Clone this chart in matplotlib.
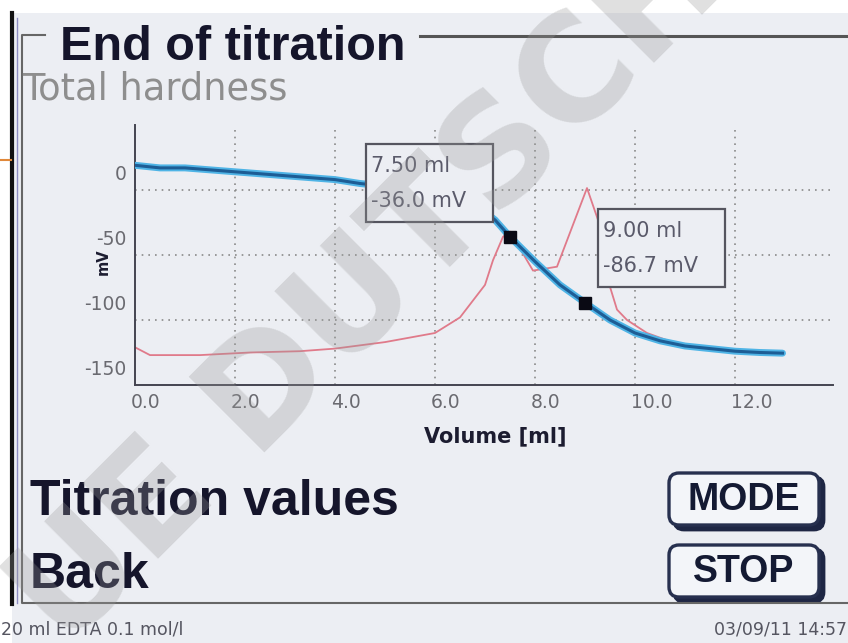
import matplotlib
matplotlib.use("Agg")
import matplotlib.pyplot as plt
import matplotlib.transforms as mtransforms
from matplotlib.patches import Rectangle, FancyBboxPatch

# krzywa miareczkowania (niebieska): objetosc [ml] -> potencjal [mV]
objetosc = [0.0, 0.5, 1.0, 2.0, 3.0, 4.0, 4.5, 5.0, 5.5, 6.0, 6.5, 7.0, 7.2, 7.5,
            8.0, 8.5, 9.0, 9.5, 10.0, 10.5, 11.0, 11.5, 12.0, 12.5, 12.95]
potencjal = [19, 17, 17, 14, 11, 8, 5, 3, 0, -4, -9, -17, -23, -36.0,
             -55, -73, -86.7, -100, -110, -116, -120, -122, -124, -125, -125.5]

# pierwsza pochodna (rozowa), w tej samej skali
objetosc_poch = [0.0, 0.3, 1.3, 2.3, 3.3, 4.0, 5.0, 6.0, 6.5, 7.0, 7.16, 7.36, 7.5,
                 7.96, 8.44, 9.04, 9.26, 9.44, 9.64, 9.84, 10.24, 10.6]
pochodna = [-121, -127, -127, -125, -124, -122, -117, -110, -98, -73, -54, -36, -32,
            -62, -59, 1.5, -23, -67, -92, -100, -110, -115]

# punkty koncowe
pk_ml = [7.50, 9.00]
pk_mv = [-36.0, -86.7]

xticks = [0, 2, 4, 6, 8, 10, 12]
xtick_labels = ["0.0", "2.0", "4.0", "6.0", "8.0", "10.0", "12.0"]
yticks = [0, -50, -100, -150]
ytick_labels = ["0", "-50", "-100", "-150"]

W, H = 848, 643
TLO = "#eceef3"
GRUBY = "Liberation Sans"

fig = plt.figure(figsize=(W / 100, H / 100), dpi=100)
fig.patch.set_facecolor("white")

# tlo ekranu w pikselach
ekran = fig.add_axes([0, 0, 1, 1], zorder=0)
ekran.set_xlim(0, W)
ekran.set_ylim(H, 0)
ekran.axis("off")
ekran.add_patch(Rectangle((12, 13), W - 12, H - 13, facecolor=TLO, edgecolor="none"))
ekran.plot([12, 12], [13, 604], color="#111111", lw=3)
ekran.plot([17, 17], [18, 603], color="#8c8cc0", lw=1)
ekran.plot([0, 11], [160, 160], color="#e0883a", lw=1.5)
ekran.plot([45, 22, 22, W], [35, 35, 603, 603], color="#666666", lw=1.5)
ekran.plot([420, W], [36, 36], color="#555555", lw=2.2)

ekran.text(60, 60, "End of titration", family=GRUBY, fontweight="bold",
           fontsize=35, color="#15152b", va="baseline")
ekran.text(22, 100, "Total hardness", family="DejaVu Sans", fontsize=26.5,
           color="#8e8e8e", va="baseline")
ekran.text(30, 515, "Titration values", family=GRUBY, fontweight="bold",
           fontsize=36, color="#15152b", va="baseline")
ekran.text(30, 588, "Back", family=GRUBY, fontweight="bold",
           fontsize=36, color="#15152b", va="baseline")

for nazwa, y0 in [("MODE", 473), ("STOP", 545)]:
    ekran.add_patch(FancyBboxPatch((674, y0 + 4), 150, 53,
                    boxstyle="round,pad=0,rounding_size=10",
                    facecolor="#1e2644", edgecolor="#1e2644", lw=2))
    ekran.add_patch(FancyBboxPatch((669, y0), 150, 52,
                    boxstyle="round,pad=0,rounding_size=10",
                    facecolor="#f3f5f9", edgecolor="#27304f", lw=2.4))
    ekran.text(744, y0 + 27, nazwa, family=GRUBY, fontweight="bold",
               fontsize=27, color="#141a33", ha="center", va="center")

ekran.text(1, 630, "20 ml EDTA 0.1 mol/l", fontsize=12.5, color="#555560", va="center")
ekran.text(W - 1, 630, "03/09/11 14:57", fontsize=12.5, color="#555560",
           va="center", ha="right")

# wykres
ax = fig.add_axes([135 / W, (H - 385) / H, (833 - 135) / W, (385 - 125) / H], zorder=2)
ax.set_facecolor("none")
ax.set_xlim(0, 13.96)
ax.set_ylim(-150, 50)

for x in xticks[1:]:
    ax.axvline(x, color="#8a8a8a", lw=1.2, ls=(0, (1, 3)), zorder=1)
for y in yticks[:-1]:
    ax.axhline(y, color="#8a8a8a", lw=1.2, ls=(0, (1, 3)), zorder=1)

ax.plot(objetosc_poch, pochodna, color="#e07a8a", lw=1.3, zorder=2)
ax.plot(objetosc, potencjal, color="#4fb4e6", lw=5, zorder=3, solid_capstyle="round")
ax.plot(objetosc, potencjal, color="#1d5d95", lw=2.2, zorder=4)
ax.plot(pk_ml, pk_mv, "s", color="#0a0a14", ms=8, zorder=5)

# ramki z wartosciami
ramki = [(-144, 15), (13, 16)]
for (dx, dy), xm, ym in zip(ramki, pk_ml, pk_mv):
    tr = mtransforms.Affine2D().translate(dx, dy) + mtransforms.ScaledTranslation(xm, ym, ax.transData)
    ax.add_patch(Rectangle((0, 0), 127, 78, transform=tr, facecolor=TLO,
                           edgecolor="#55555f", lw=1.6, zorder=6, clip_on=False))
    ax.text(5, 56, f"{xm:.2f} ml", transform=tr, fontsize=15, color="#5a5a6a",
            va="center", zorder=7)
    ax.text(5, 21, f"{ym:.1f} mV", transform=tr, fontsize=15, color="#5a5a6a",
            va="center", zorder=7)

ax.set_xticks(xticks)
ax.set_xticklabels(xtick_labels)
ax.set_yticks(yticks)
ax.set_yticklabels(ytick_labels)
ax.tick_params(length=0, labelsize=13.5, labelcolor="#6a6a70", pad=6)
for lab in ax.get_xticklabels():
    lab.set_ha("left")
    lab.set_transform(lab.get_transform() + mtransforms.Affine2D().translate(-4, 0))
for lab in ax.get_yticklabels():
    lab.set_va("bottom")
    lab.set_transform(lab.get_transform() + mtransforms.Affine2D().translate(0, 6))

for s in ["top", "right"]:
    ax.spines[s].set_visible(False)
for s in ["left", "bottom"]:
    ax.spines[s].set_color("#444450")
    ax.spines[s].set_linewidth(1.4)

ax.set_xlabel("Volume [ml]", fontweight="bold", fontsize=15, color="#1c1c30")
ax.xaxis.set_label_coords((495 - 135) / 698, -(436 - 385) / 260)
ax.set_ylabel("mV", fontweight="bold", fontsize=10.5, color="#1c1c30")
ax.yaxis.set_label_coords((103 - 135) / 698, (385 - 262) / 260)
ax.yaxis.label.set_va("center")
ax.xaxis.label.set_va("center")

# znak wodny
fig.text(445 / W, 1 - 215 / H, "UE DUTSCHER", fontsize=105, fontweight="bold",
         color="#9a9a9a", alpha=0.3, rotation=45, ha="center", va="center",
         zorder=10)

fig.savefig("out.png", dpi=100, facecolor=fig.get_facecolor())
